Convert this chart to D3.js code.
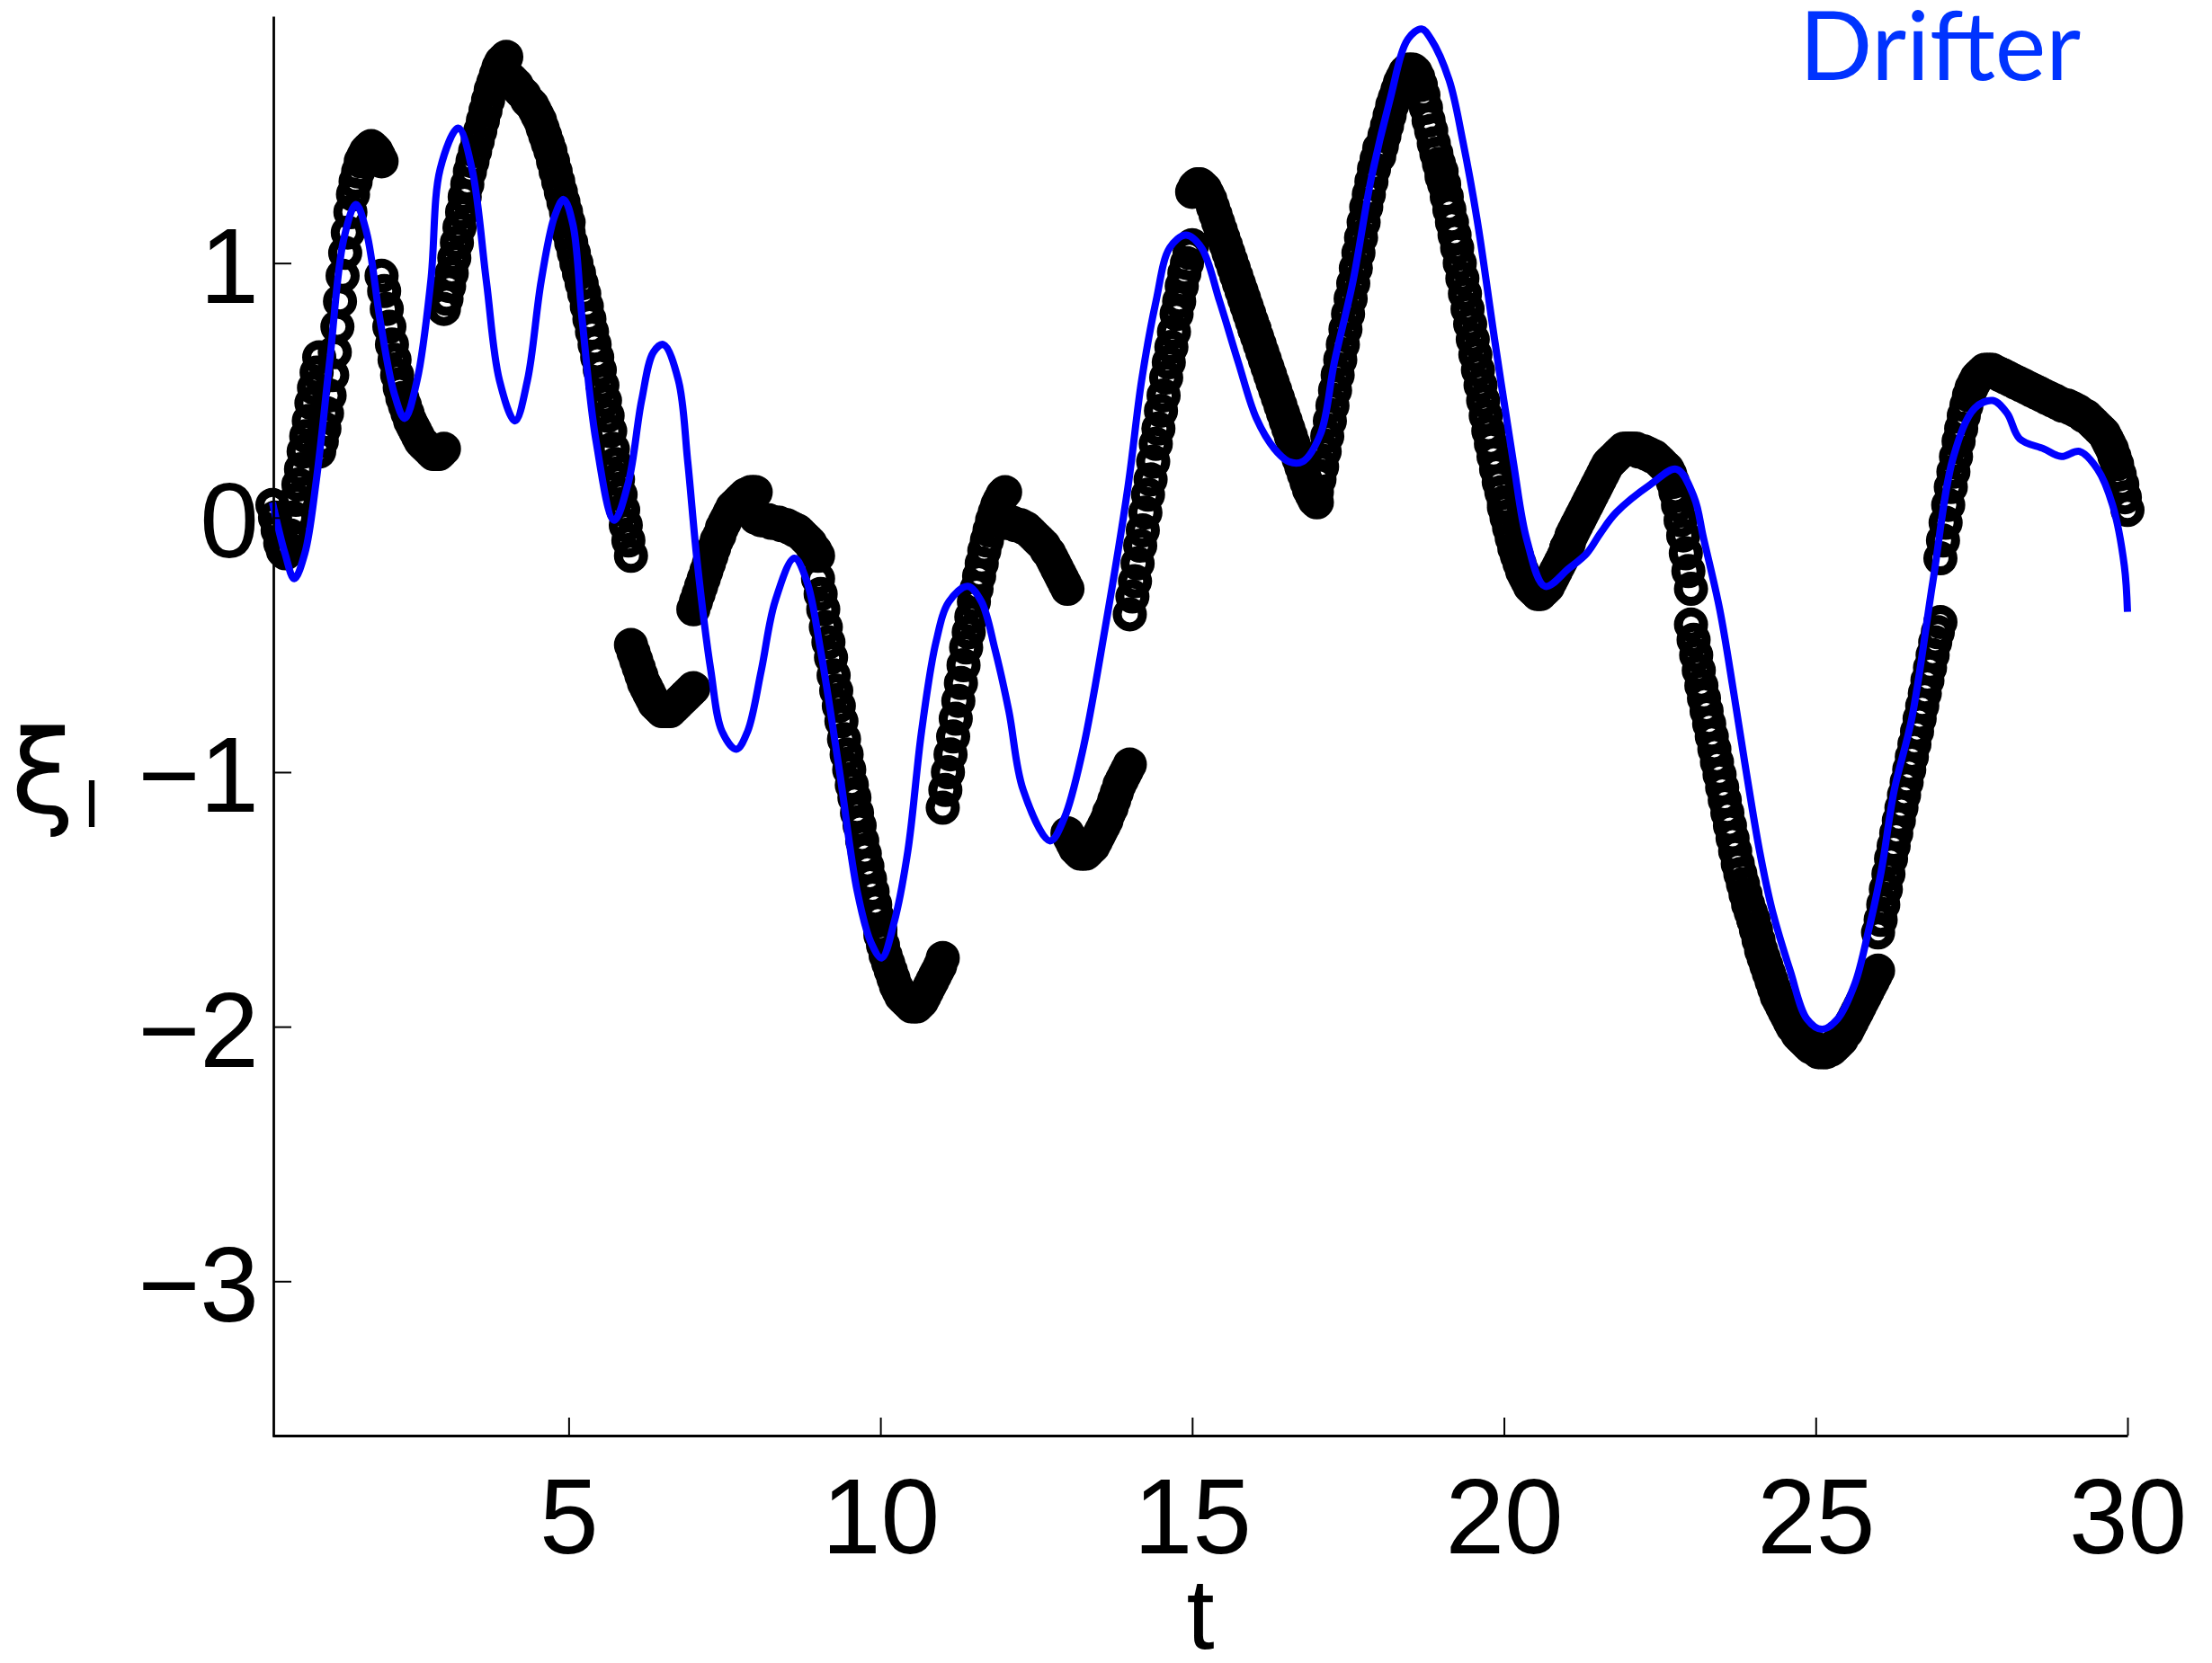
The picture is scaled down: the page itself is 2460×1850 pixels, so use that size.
<!DOCTYPE html>
<html><head><meta charset="utf-8">
<script src="https://cdn.jsdelivr.net/npm/d3@7"></script>
<style>html,body{margin:0;background:#fff}</style>
</head><body>
<svg id="chart" width="2460" height="1850"></svg>
<script>
// axis ticks
const xTicks = [5, 10, 15, 20, 25, 30];
const yTicks = [-3, -2, -1, 0, 1];

// drifter trajectory (t, xi)
const drifterT = [0.25,0.45,0.6,0.77,0.95,1.17,1.39,1.59,1.76,1.98,2.2,2.37,2.57,2.79,2.94,3.23,3.45,3.68,3.89,4.14,4.34,4.56,4.77,4.92,5.07,5.22,5.44,5.73,5.96,6.17,6.36,6.52,6.76,6.91,7.06,7.28,7.46,7.69,7.87,8.09,8.31,8.62,8.82,9.04,9.34,9.63,9.85,10.02,10.22,10.44,10.66,10.89,11.1,11.4,11.62,11.84,12.06,12.29,12.72,12.95,13.24,13.6,13.97,14.19,14.42,14.64,14.9,15.15,15.44,15.74,16.03,16.32,16.55,16.77,17.06,17.28,17.58,17.87,18.17,18.46,18.68,18.83,19.12,19.34,19.57,19.85,20.15,20.37,20.66,21.04,21.33,21.55,21.8,22.35,22.77,23.05,23.2,23.46,23.68,23.88,24.1,24.3,24.59,24.86,25.1,25.35,25.63,25.84,26.05,26.26,26.54,26.88,27.21,27.55,27.84,28.07,28.27,28.66,28.94,29.23,29.52,29.76,29.95,30.0];
const drifterXi = [0.06,-0.14,-0.24,-0.14,0.14,0.62,1.09,1.23,1.12,0.77,0.49,0.39,0.54,0.93,1.37,1.53,1.37,0.93,0.54,0.38,0.54,0.93,1.18,1.25,1.15,0.77,0.3,-0.01,0.14,0.46,0.65,0.68,0.54,0.22,-0.17,-0.6,-0.84,-0.91,-0.84,-0.6,-0.33,-0.16,-0.25,-0.52,-0.99,-1.47,-1.67,-1.73,-1.59,-1.31,-0.84,-0.49,-0.33,-0.27,-0.33,-0.52,-0.76,-1.07,-1.27,-1.18,-0.92,-0.44,0.12,0.54,0.85,1.06,1.11,1.06,0.85,0.61,0.39,0.27,0.22,0.22,0.33,0.61,0.93,1.33,1.64,1.88,1.92,1.88,1.72,1.48,1.17,0.7,0.22,-0.09,-0.27,-0.2,-0.14,-0.06,0.02,0.13,0.19,0.08,-0.08,-0.36,-0.68,-0.99,-1.31,-1.54,-1.78,-1.97,-2.01,-1.97,-1.83,-1.63,-1.39,-1.07,-0.79,-0.25,0.24,0.43,0.46,0.41,0.31,0.27,0.24,0.26,0.19,0.05,-0.19,-0.37];

// model forecasts: start time of each daily run, hourly output step (days)
const segStart = [0.25,1,2,3,4,5,6,7,8,9,10,11,12,13,14,15,16,17,18,19,20,21,22,23,24,25,26,27,28,29];
const stepDays = 1 / 24;
const segXi = [
  [0.05,0.0,-0.05,-0.10,-0.13,-0.14,-0.12,-0.07,0.0,0.07,0.13,0.19,0.26,0.32,0.38,0.45,0.51,0.57,0.63],
  [0.26,0.30,0.35,0.41,0.48,0.56,0.65,0.75,0.85,0.95,1.04,1.12,1.20,1.27,1.32,1.36,1.40,1.42,1.44,1.45,1.46,1.45,1.44,1.42,1.40],
  [0.95,0.89,0.82,0.75,0.68,0.62,0.56,0.51,0.47,0.44,0.41,0.38,0.36,0.34,0.32,0.30,0.29,0.28,0.27,0.26,0.25,0.25,0.25,0.26,0.27],
  [0.82,0.86,0.91,0.96,1.02,1.08,1.14,1.20,1.26,1.31,1.36,1.40,1.44,1.48,1.52,1.56,1.60,1.64,1.68,1.71,1.74,1.77,1.79,1.80,1.81],
  [1.74,1.73,1.72,1.71,1.70,1.68,1.67,1.66,1.64,1.63,1.62,1.60,1.58,1.56,1.53,1.50,1.47,1.44,1.40,1.36,1.32,1.28,1.24,1.20,1.16],
  [1.12,1.08,1.04,1.00,0.96,0.92,0.88,0.83,0.78,0.73,0.68,0.63,0.58,0.52,0.46,0.40,0.34,0.27,0.21,0.15,0.09,0.03,-0.03,-0.09,-0.15],
  [-0.50,-0.53,-0.56,-0.59,-0.62,-0.65,-0.67,-0.69,-0.71,-0.73,-0.74,-0.75,-0.76,-0.76,-0.76,-0.76,-0.75,-0.74,-0.73,-0.72,-0.71,-0.70,-0.69,-0.68,-0.67],
  [-0.36,-0.33,-0.30,-0.27,-0.24,-0.21,-0.18,-0.15,-0.12,-0.09,-0.07,-0.04,-0.02,0.0,0.02,0.04,0.05,0.06,0.07,0.08,0.09,0.09,0.10,0.10,0.10],
  [0.0,0.0,-0.01,-0.01,-0.01,-0.01,-0.02,-0.02,-0.02,-0.02,-0.03,-0.03,-0.03,-0.04,-0.04,-0.05,-0.05,-0.06,-0.07,-0.08,-0.09,-0.10,-0.12,-0.13,-0.15],
  [-0.24,-0.30,-0.36,-0.43,-0.49,-0.55,-0.62,-0.68,-0.74,-0.80,-0.87,-0.93,-0.99,-1.05,-1.10,-1.16,-1.21,-1.27,-1.32,-1.37,-1.42,-1.47,-1.52,-1.57,-1.62],
  [-1.64,-1.68,-1.72,-1.75,-1.78,-1.81,-1.84,-1.86,-1.88,-1.89,-1.90,-1.91,-1.92,-1.92,-1.92,-1.91,-1.90,-1.88,-1.86,-1.84,-1.82,-1.80,-1.78,-1.76,-1.73],
  [-1.14,-1.07,-1.00,-0.93,-0.86,-0.79,-0.72,-0.65,-0.58,-0.51,-0.45,-0.39,-0.33,-0.28,-0.23,-0.18,-0.13,-0.09,-0.05,-0.01,0.02,0.05,0.07,0.09,0.10],
  [-0.02,-0.02,-0.02,-0.02,-0.03,-0.03,-0.03,-0.04,-0.04,-0.05,-0.06,-0.07,-0.08,-0.09,-0.10,-0.11,-0.13,-0.14,-0.16,-0.18,-0.20,-0.22,-0.24,-0.26,-0.28],
  [-1.24,-1.26,-1.28,-1.30,-1.31,-1.32,-1.32,-1.32,-1.31,-1.30,-1.29,-1.27,-1.25,-1.23,-1.21,-1.19,-1.16,-1.14,-1.11,-1.08,-1.05,-1.03,-1.01,-0.99,-0.97],
  [-0.38,-0.31,-0.25,-0.18,-0.11,-0.05,0.02,0.09,0.15,0.22,0.29,0.35,0.42,0.48,0.55,0.61,0.67,0.73,0.80,0.85,0.91,0.96,1.00,1.04,1.07],
  [1.28,1.30,1.31,1.31,1.30,1.29,1.27,1.25,1.22,1.19,1.16,1.13,1.10,1.07,1.04,1.01,0.98,0.95,0.92,0.89,0.86,0.83,0.80,0.77,0.74],
  [0.74,0.71,0.68,0.65,0.62,0.59,0.56,0.53,0.50,0.47,0.44,0.41,0.38,0.35,0.32,0.29,0.26,0.23,0.20,0.17,0.14,0.11,0.09,0.07,0.06],
  [0.10,0.15,0.20,0.26,0.32,0.38,0.44,0.50,0.56,0.62,0.68,0.74,0.80,0.86,0.92,0.98,1.04,1.10,1.16,1.22,1.27,1.32,1.37,1.41,1.45],
  [1.42,1.46,1.50,1.54,1.58,1.62,1.65,1.68,1.71,1.73,1.75,1.76,1.76,1.76,1.75,1.73,1.70,1.66,1.61,1.56,1.52,1.47,1.43,1.39,1.34],
  [1.36,1.31,1.26,1.21,1.16,1.11,1.06,1.00,0.94,0.88,0.82,0.76,0.70,0.64,0.58,0.52,0.46,0.40,0.34,0.29,0.24,0.19,0.14,0.10,0.06],
  [0.04,0.0,-0.04,-0.08,-0.12,-0.15,-0.18,-0.21,-0.23,-0.25,-0.27,-0.28,-0.29,-0.30,-0.30,-0.29,-0.28,-0.27,-0.25,-0.23,-0.21,-0.19,-0.17,-0.15,-0.12],
  [-0.12,-0.10,-0.07,-0.05,-0.03,-0.01,0.01,0.03,0.05,0.07,0.09,0.11,0.13,0.15,0.17,0.19,0.21,0.22,0.23,0.24,0.25,0.26,0.27,0.27,0.27],
  [0.27,0.27,0.27,0.27,0.26,0.26,0.26,0.25,0.25,0.24,0.24,0.23,0.22,0.21,0.20,0.19,0.17,0.14,0.10,0.05,-0.01,-0.07,-0.14,-0.21,-0.28],
  [-0.42,-0.48,-0.54,-0.60,-0.66,-0.71,-0.76,-0.81,-0.86,-0.91,-0.96,-1.01,-1.06,-1.11,-1.16,-1.21,-1.26,-1.31,-1.36,-1.40,-1.44,-1.48,-1.52,-1.55,-1.58],
  [-1.58,-1.62,-1.66,-1.70,-1.73,-1.76,-1.79,-1.82,-1.85,-1.88,-1.90,-1.92,-1.94,-1.96,-1.98,-2.00,-2.01,-2.03,-2.04,-2.05,-2.06,-2.07,-2.08,-2.08,-2.09],
  [-2.09,-2.10,-2.10,-2.10,-2.10,-2.09,-2.09,-2.08,-2.07,-2.06,-2.05,-2.03,-2.02,-2.00,-1.98,-1.96,-1.94,-1.92,-1.90,-1.88,-1.86,-1.84,-1.82,-1.80,-1.78],
  [-1.63,-1.58,-1.52,-1.46,-1.40,-1.34,-1.29,-1.24,-1.19,-1.14,-1.09,-1.04,-0.99,-0.94,-0.89,-0.84,-0.79,-0.74,-0.69,-0.64,-0.59,-0.54,-0.49,-0.45,-0.41],
  [-0.16,-0.09,-0.02,0.05,0.12,0.18,0.24,0.30,0.35,0.40,0.44,0.48,0.51,0.53,0.55,0.56,0.57,0.58,0.58,0.58,0.58,0.57,0.57,0.56,0.56],
  [0.56,0.55,0.55,0.54,0.54,0.53,0.53,0.52,0.52,0.51,0.51,0.50,0.50,0.49,0.49,0.48,0.48,0.47,0.47,0.46,0.46,0.45,0.45,0.44,0.44],
  [0.44,0.44,0.43,0.43,0.42,0.42,0.41,0.40,0.40,0.39,0.38,0.37,0.36,0.35,0.34,0.33,0.31,0.29,0.27,0.24,0.21,0.17,0.13,0.08,0.03]
];

const svg = d3.select("#chart");
const x = d3.scaleLinear().domain([0.25, 30]).range([303, 2366]);
const y = d3.scaleLinear().domain([-3.61, 1.97]).range([1598, 18]);
const FONT = "'Liberation Sans', Arial, Helvetica, sans-serif";
const fmt = d => d < 0 ? "\u2212" + Math.abs(d) : String(d);

// model output: open circle markers, one group per run
const markers = svg.append("g");
segXi.forEach((vals, s) => {
  const pts = vals.map((v, k) => [segStart[s] + k * stepDays, v]);
  markers.append("g").selectAll("circle").data(pts).join("circle")
    .attr("cx", d => x(d[0])).attr("cy", d => y(d[1])).attr("r", 14)
    .attr("fill", "none").attr("stroke", "#000").attr("stroke-width", 10);
});

// drifter line
const pts = drifterT.map((t, i) => [t, drifterXi[i]]);
svg.append("path").datum(pts)
  .attr("d", d3.line().x(d => x(d[0])).y(d => y(d[1])).curve(d3.curveCatmullRom.alpha(0.5)))
  .attr("fill", "none").attr("stroke", "#0000ff").attr("stroke-width", 8)
  .attr("stroke-linejoin", "round");

// axes
const gy = svg.append("g").attr("transform", "translate(304,0)")
  .call(d3.axisLeft(y).tickValues(yTicks).tickSize(-20).tickSizeOuter(0).tickFormat(fmt));
const gx = svg.append("g").attr("transform", "translate(0,1597)")
  .call(d3.axisBottom(x).tickValues(xTicks).tickSize(-20).tickSizeOuter(0).tickFormat(fmt));
[gx, gy].forEach(g => {
  g.select(".domain").attr("stroke", "#000").attr("stroke-width", 2.8);
  g.selectAll(".tick line").attr("stroke", "#000").attr("stroke-width", 2);
  g.selectAll(".tick text").attr("font-family", FONT).attr("font-size", 118).attr("fill", "#000");
});
gy.selectAll(".tick text").attr("x", -16).attr("dy", null).attr("y", 44).attr("text-anchor", "end");
gx.selectAll(".tick text").attr("y", 131).attr("dy", null);

// axis titles
svg.append("text").attr("x", 1335).attr("y", 1834).attr("text-anchor", "middle")
  .attr("font-family", FONT).attr("font-size", 112).text("t");
svg.append("text").attr("x", 12).attr("y", 904)
  .attr("font-family", "'DejaVu Sans', sans-serif").attr("font-size", 128).text("\u03BE");
svg.append("text").attr("x", 94).attr("y", 920)
  .attr("font-family", FONT).attr("font-size", 72).text("l");

// series label
svg.append("text").attr("x", 2001).attr("y", 89)
  .attr("font-family", "Lato, 'Open Sans', sans-serif").attr("font-size", 107)
  .attr("fill", "#0033ff").text("Drifter");
</script>
</body></html>
